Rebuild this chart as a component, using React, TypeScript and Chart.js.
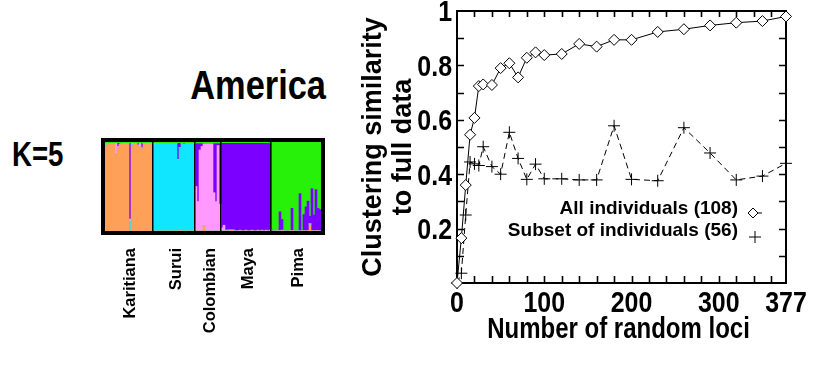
import React, { useEffect, useRef } from 'react';
import { Chart, registerables } from 'chart.js';

Chart.register(...registerables);

const FONT = "'Liberation Sans', Arial, Helvetica, sans-serif";

// ---------- Left panel: STRUCTURE-style ancestry plot (K=5) ----------
// cluster order (bottom -> top): orange, cyan, pink, purple, green
const CLUSTER_COLORS = ['#FFA05A', '#10E6FF', '#FF99FF', '#7B00FF', '#28F00A'];
const POPULATIONS = ['Karitiana', 'Surui', 'Colombian', 'Maya', 'Pima'];

const KARITIANA = [
  [0.965, 0.02, 0, 0, 0.015],
  [0.985, 0, 0, 0, 0.015],
  [0.985, 0, 0, 0, 0.015],
  [0.985, 0, 0, 0, 0.015],
  [0.985, 0, 0, 0, 0.015],
  [0.865, 0.005, 0.115, 0, 0.015],
  [0.94, 0, 0.01, 0.035, 0.015],
  [0.975, 0, 0, 0, 0.025],
  [0.985, 0, 0, 0, 0.015],
  [0.985, 0, 0, 0, 0.015],
  [0.985, 0, 0, 0, 0.015],
  [0.985, 0, 0, 0, 0.015],
  [0, 0.11, 0.025, 0.85, 0.015],
  [0.95, 0.02, 0.015, 0, 0.015],
  [0.985, 0, 0, 0, 0.015],
  [0.985, 0, 0, 0, 0.015],
  [0.965, 0, 0, 0.02, 0.015],
  [0.95, 0, 0.035, 0, 0.015],
  [0.925, 0.01, 0, 0.05, 0.015],
  [0.985, 0, 0, 0, 0.015],
  [0.985, 0, 0, 0, 0.015],
  [0.965, 0, 0.02, 0, 0.015],
  [0.985, 0, 0, 0, 0.015],
  [0.985, 0, 0, 0, 0.015],
];

const SURUI = [
  [0, 0.965, 0.02, 0, 0.015],
  [0, 0.985, 0, 0, 0.015],
  [0, 0.985, 0, 0, 0.015],
  [0, 0.985, 0, 0, 0.015],
  [0, 0.985, 0, 0, 0.015],
  [0, 0.985, 0, 0, 0.015],
  [0, 0.985, 0, 0, 0.015],
  [0, 0.985, 0, 0, 0.015],
  [0, 0.985, 0, 0, 0.015],
  [0, 0.985, 0, 0, 0.015],
  [0, 0.985, 0, 0, 0.015],
  [0, 0.985, 0, 0, 0.015],
  [0, 0.795, 0.01, 0.18, 0.015],
  [0.01, 0.93, 0, 0.045, 0.015],
  [0, 0.985, 0, 0, 0.015],
  [0, 0.975, 0, 0.01, 0.015],
  [0, 0.985, 0, 0, 0.015],
  [0, 0.985, 0, 0, 0.015],
  [0, 0.985, 0, 0, 0.015],
  [0, 0.985, 0, 0, 0.015],
  [0, 0.985, 0, 0, 0.015],
];

const COLOMBIAN = [
  [0, 0, 0.5, 0.48, 0.02],
  [0, 0, 0.33, 0.65, 0.02],
  [0, 0, 0.91, 0.07, 0.02],
  [0, 0, 0.95, 0.03, 0.02],
  [0.055, 0.005, 0.92, 0, 0.02],
  [0, 0, 0.98, 0, 0.02],
  [0, 0, 0.98, 0, 0.02],
  [0, 0, 0.98, 0, 0.02],
  [0, 0, 0.98, 0, 0.02],
  [0, 0, 0.43, 0.55, 0.02],
  [0, 0, 0.33, 0.65, 0.02],
  [0, 0, 0.96, 0.02, 0.02],
  [0, 0, 0.3, 0.68, 0.02],
];

const MAYA = [
  [0, 0.005, 0.03, 0.95, 0.015],
  [0, 0, 0.065, 0.92, 0.015],
  [0, 0, 0.01, 0.975, 0.015],
  [0, 0.01, 0, 0.975, 0.015],
  [0.01, 0, 0, 0.975, 0.015],
  [0.01, 0, 0, 0.975, 0.015],
  [0, 0.01, 0, 0.975, 0.015],
  [0, 0, 0, 0.985, 0.015],
  [0, 0, 0, 0.985, 0.015],
  [0, 0, 0.01, 0.975, 0.015],
  [0, 0, 0, 0.985, 0.015],
  [0, 0, 0, 0.985, 0.015],
  [0, 0, 0.01, 0.975, 0.015],
  [0, 0, 0, 0.985, 0.015],
  [0, 0, 0, 0.985, 0.015],
  [0, 0, 0.01, 0.975, 0.015],
  [0, 0, 0, 0.985, 0.015],
  [0, 0, 0, 0.985, 0.015],
  [0, 0, 0.01, 0.975, 0.015],
  [0, 0, 0, 0.985, 0.015],
  [0, 0, 0.01, 0.975, 0.015],
  [0, 0, 0, 0.985, 0.015],
  [0, 0, 0.01, 0.975, 0.015],
  [0, 0, 0, 0.985, 0.015],
  [0, 0, 0.01, 0.975, 0.015],
];

const PIMA = [
  [0, 0, 0, 0.01, 0.99],
  [0, 0, 0, 0, 1],
  [0, 0, 0, 0, 1],
  [0, 0, 0, 0, 1],
  [0, 0.005, 0, 0.21, 0.785],
  [0.005, 0, 0.005, 0.12, 0.87],
  [0, 0, 0, 0, 1],
  [0, 0, 0, 0, 1],
  [0, 0, 0, 0, 1],
  [0, 0, 0, 0, 1],
  [0.005, 0, 0, 0.25, 0.745],
  [0, 0, 0, 0, 1],
  [0, 0, 0, 0, 1],
  [0, 0, 0, 0, 1],
  [0, 0, 0, 0.42, 0.58],
  [0, 0, 0, 0, 1],
  [0, 0, 0.005, 0.18, 0.815],
  [0, 0, 0, 0.27, 0.73],
  [0, 0, 0.005, 0.33, 0.665],
  [0.07, 0.015, 0, 0.08, 0.835],
  [0, 0, 0.005, 0.47, 0.525],
  [0, 0, 0, 0.18, 0.82],
  [0.005, 0, 0, 0.46, 0.535],
  [0, 0, 0.005, 0.25, 0.745],
  [0, 0, 0, 0.24, 0.76],
];

// ---------- Right panel: clustering similarity vs number of loci ----------
const LOCI = [0, 5, 10, 15, 20, 25, 30, 40, 50, 60, 70, 80, 90, 100, 120, 140, 160, 180, 200, 230, 260, 290, 320, 350, 377];
const ALL_SIMILARITY = [0, 0.165, 0.36, 0.545, 0.607, 0.724, 0.73, 0.728, 0.79, 0.808, 0.756, 0.828, 0.848, 0.838, 0.842, 0.879, 0.869, 0.894, 0.894, 0.923, 0.933, 0.947, 0.957, 0.963, 0.98];
const SUBSET_SIMILARITY = [0, 0.036, 0.25, 0.445, 0.438, 0.432, 0.501, 0.428, 0.4, 0.554, 0.458, 0.381, 0.437, 0.383, 0.383, 0.379, 0.379, 0.578, 0.381, 0.376, 0.571, 0.478, 0.379, 0.393, 0.44];
const SERIES_NAMES = ['All individuals (108)', 'Subset of individuals (56)'];
const X_TICKS = [0, 20, 40, 60, 80, 100, 120, 140, 160, 180, 200, 220, 240, 260, 280, 300, 320, 340, 360, 377];
const X_LABELED = [0, 100, 200, 300, 377];
const Y_TICKS = [0, 0.1, 0.2, 0.3, 0.4, 0.5, 0.6, 0.7, 0.8, 0.9, 1];
const Y_LABELED = [0.2, 0.4, 0.6, 0.8, 1];
const X_TITLE = 'Number of random loci';
const Y_TITLE = ['Clustering similarity', 'to full data'];

function StructureChart() {
  const ref = useRef<HTMLCanvasElement>(null);
  useEffect(() => {
    const groups = [KARITIANA, SURUI, COLOMBIAN, MAYA, PIMA];
    const all = groups.flat();
    const labels = all.map((_, i) => String(i + 1));
    const labelAt = new Map<number, string>();
    const bounds: number[] = [];
    let start = 0;
    groups.forEach((g, gi) => {
      labelAt.set(start + Math.ceil(g.length / 2), POPULATIONS[gi]);
      start += g.length;
      if (gi < groups.length - 1) bounds.push(start);
    });
    const datasets = CLUSTER_COLORS.map((c, k) => ({
      label: 'Cluster ' + (k + 1),
      data: all.map((q) => q[k]),
      backgroundColor: c,
      borderWidth: 0,
      barPercentage: 1,
      categoryPercentage: 1,
    }));
    const framePlugin = {
      id: 'structureFrame',
      afterDatasetsDraw(chart: any) {
        const { ctx, chartArea: a, scales } = chart;
        const x = scales.x;
        ctx.save();
        ctx.fillStyle = '#000';
        bounds.forEach((b) => {
          const px = (x.getPixelForValue(b - 1) + x.getPixelForValue(b)) / 2;
          ctx.fillRect(Math.round(px) - 1, a.top, 1.5, a.bottom - a.top);
        });
        ctx.lineWidth = 4;
        ctx.strokeStyle = '#000';
        ctx.strokeRect(a.left - 2, a.top - 2, a.right - a.left + 4, a.bottom - a.top + 4);
        ctx.restore();
      },
    };
    const chart = new Chart(ref.current as HTMLCanvasElement, {
      type: 'bar',
      data: { labels, datasets },
      options: {
        animation: false,
        responsive: false,
        events: [],
        layout: { padding: { left: 105, right: 19, top: 142, bottom: 0 }, autoPadding: false },
        plugins: { legend: { display: false }, tooltip: { enabled: false }, title: { display: false } },
        scales: {
          x: {
            stacked: true,
            grid: { display: false },
            border: { display: false },
            ticks: {
              autoSkip: false,
              minRotation: 90,
              maxRotation: 90,
              padding: 9,
              color: '#000',
              font: { family: FONT, weight: 'bold', size: 16.5 },
              callback: (_v: any, i: number) => labelAt.get(i) ?? '',
            },
            afterFit: (s: any) => {
              s.height = 152;
              s.paddingLeft = 0;
              s.paddingRight = 0;
            },
          },
          y: { stacked: true, display: false, min: 0, max: 1 },
        },
      } as any,
      plugins: [framePlugin],
    });
    return () => chart.destroy();
  }, []);
  return <canvas ref={ref} width={340} height={383} style={{ position: 'absolute', left: 0, top: 0 }} />;
}

function drawDiamond(ctx: CanvasRenderingContext2D, x: number, y: number, r: number) {
  ctx.beginPath();
  ctx.moveTo(x, y - r);
  ctx.lineTo(x + r, y);
  ctx.lineTo(x, y + r);
  ctx.lineTo(x - r, y);
  ctx.closePath();
  ctx.fillStyle = '#fff';
  ctx.fill();
  ctx.stroke();
}

function drawSquashed(
  ctx: CanvasRenderingContext2D,
  text: string,
  x: number,
  y: number,
  size: number,
  sx: number,
  align: CanvasTextAlign,
) {
  ctx.save();
  ctx.translate(x, y);
  ctx.scale(sx, 1);
  ctx.font = `bold ${size}px ${FONT}`;
  ctx.textAlign = align;
  ctx.textBaseline = 'alphabetic';
  ctx.fillStyle = '#000';
  ctx.fillText(text, 0, 0);
  ctx.restore();
}

function SimilarityChart() {
  const ref = useRef<HTMLCanvasElement>(null);
  useEffect(() => {
    const TICK_SIZE = 29;
    const TICK_SX = 0.86;
    const boxPlugin = {
      id: 'boxTicks',
      beforeDatasetsDraw(chart: any) {
        const { ctx, chartArea: a, scales } = chart;
        ctx.save();
        ctx.strokeStyle = '#000';
        ctx.lineWidth = 2;
        ctx.strokeRect(a.left, a.top, a.right - a.left, a.bottom - a.top);
        ctx.lineWidth = 1.6;
        ctx.beginPath();
        X_TICKS.forEach((v) => {
          if (v === 0 || v === 377) return;
          const px = Math.round(scales.x.getPixelForValue(v)) + 0.5;
          ctx.moveTo(px, a.bottom);
          ctx.lineTo(px, a.bottom - 7);
          ctx.moveTo(px, a.top);
          ctx.lineTo(px, a.top + 6);
        });
        Y_TICKS.forEach((v) => {
          if (v === 0 || v === 1) return;
          const py = Math.round(scales.y.getPixelForValue(v)) + 0.5;
          ctx.moveTo(a.left, py);
          ctx.lineTo(a.left + 7, py);
          ctx.moveTo(a.right, py);
          ctx.lineTo(a.right - 7, py);
        });
        ctx.stroke();
        ctx.restore();

        // tick labels and x title
        Y_LABELED.forEach((v) => {
          const py = scales.y.getPixelForValue(v);
          drawSquashed(ctx, String(v), a.left - 5, py + 0.358 * TICK_SIZE, TICK_SIZE, TICK_SX, 'right');
        });
        X_LABELED.forEach((v) => {
          const px = scales.x.getPixelForValue(v);
          drawSquashed(ctx, String(v), px, a.bottom + 29, TICK_SIZE, TICK_SX, 'center');
        });
        drawSquashed(ctx, X_TITLE, (a.left + a.right) / 2 - 3, a.bottom + 55, 30, 0.8, 'center');
      },
      afterDatasetsDraw(chart: any) {
        const { ctx, chartArea: a } = chart;
        ctx.save();
        ctx.font = `bold 19px ${FONT}`;
        ctx.textAlign = 'right';
        ctx.textBaseline = 'middle';
        ctx.fillStyle = '#000';
        const tx = a.right - 48;
        const y1 = a.top + 198;
        const y2 = a.top + 220;
        ctx.fillText(SERIES_NAMES[0], tx, y1);
        ctx.fillText(SERIES_NAMES[1], tx, y2);
        ctx.strokeStyle = '#000';
        ctx.lineWidth = 1;
        ctx.beginPath();
        ctx.moveTo(a.right - 33, y1 + 4);
        ctx.lineTo(a.right - 24, y1 + 4);
        ctx.stroke();
        drawDiamond(ctx, a.right - 33, y1 + 4, 5);
        ctx.beginPath();
        ctx.moveTo(a.right - 37, y2 + 6);
        ctx.lineTo(a.right - 25, y2 + 6);
        ctx.moveTo(a.right - 31, y2);
        ctx.lineTo(a.right - 31, y2 + 12);
        ctx.stroke();
        ctx.restore();
      },
    };
    const chart = new Chart(ref.current as HTMLCanvasElement, {
      type: 'line',
      data: {
        datasets: [
          {
            label: SERIES_NAMES[0],
            data: LOCI.map((x, i) => ({ x, y: ALL_SIMILARITY[i] })),
            borderColor: '#000',
            borderWidth: 1,
            pointStyle: 'rectRot',
            pointRadius: 5.5,
            pointBackgroundColor: '#fff',
            pointBorderColor: '#000',
            pointBorderWidth: 1,
            clip: false,
          },
          {
            label: SERIES_NAMES[1],
            data: LOCI.map((x, i) => ({ x, y: SUBSET_SIMILARITY[i] })),
            borderColor: '#000',
            borderWidth: 1,
            borderDash: [6, 4],
            pointStyle: 'cross',
            pointRadius: 6,
            pointBorderColor: '#000',
            pointBorderWidth: 1,
            clip: false,
          },
        ],
      },
      options: {
        animation: false,
        responsive: false,
        events: [],
        layout: { padding: { left: 0, right: 28, top: 11, bottom: 0 }, autoPadding: false },
        plugins: { legend: { display: false }, tooltip: { enabled: false } },
        scales: {
          x: {
            type: 'linear',
            min: 0,
            max: 377,
            grid: { display: false },
            border: { display: false },
            afterBuildTicks: (s: any) => {
              s.ticks = X_TICKS.map((v) => ({ value: v }));
            },
            ticks: { display: false },
            title: { display: false },
            afterFit: (s: any) => {
              s.height = 100;
              s.paddingLeft = 0;
              s.paddingRight = 0;
            },
          },
          y: {
            type: 'linear',
            min: 0,
            max: 1,
            grid: { display: false },
            border: { display: false },
            afterBuildTicks: (s: any) => {
              s.ticks = Y_TICKS.map((v) => ({ value: v }));
            },
            ticks: { display: false },
            title: {
              display: true,
              text: Y_TITLE,
              color: '#000',
              font: { family: FONT, weight: 'bold', size: 27, lineHeight: 1.1 },
              padding: { top: 19, bottom: 0 },
            },
            afterFit: (s: any) => {
              s.width = 117;
              s.paddingTop = 0;
              s.paddingBottom = 0;
            },
          },
        },
      } as any,
      plugins: [boxPlugin],
    });
    return () => chart.destroy();
  }, []);
  return <canvas ref={ref} width={474} height={383} style={{ position: 'absolute', left: 340, top: 0 }} />;
}

export default function App() {
  return (
    <div style={{ position: 'absolute', left: 0, top: 0, width: 814, height: 383, background: '#fff', overflow: 'hidden' }}>
      <div
        style={{
          position: 'absolute',
          left: 12,
          top: 136,
          font: `bold 35px ${FONT}`,
          lineHeight: '35px',
          transform: 'scaleX(0.79)',
          transformOrigin: 'left top',
          whiteSpace: 'nowrap',
          color: '#000',
        }}
      >
        K=5
      </div>
      <div
        style={{
          position: 'absolute',
          left: 0,
          width: 326,
          top: 65,
          textAlign: 'right',
          font: `bold 40px ${FONT}`,
          lineHeight: '40px',
          transform: 'scaleX(0.86)',
          transformOrigin: 'right top',
          whiteSpace: 'nowrap',
          color: '#000',
        }}
      >
        America
      </div>
      <StructureChart />
      <SimilarityChart />
    </div>
  );
}
